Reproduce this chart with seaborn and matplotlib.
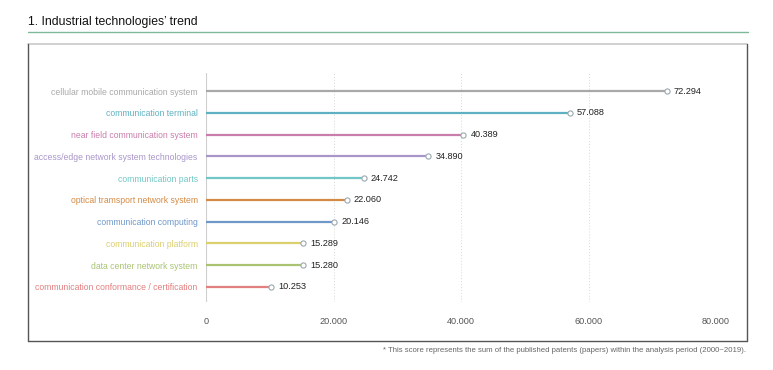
import matplotlib
matplotlib.use("Agg")
import matplotlib.pyplot as plt
import seaborn as sns
import pandas as pd
from matplotlib.lines import Line2D

# data
techs = ["cellular mobile communication system", "communication terminal",
         "near field communication system", "access/edge network system technologies",
         "communication parts", "optical tramsport network system",
         "communication computing", "communication platform",
         "data center network system", "communication conformance / certification"]
scores = [72294, 57088, 40389, 34890, 24742, 22060, 20146, 15289, 15280, 10253]
colors = ["#a8a8a8", "#5fb1c2", "#c97dab", "#a996c9", "#72c6c6", "#d38a45",
          "#6e98c8", "#dccf6e", "#a9c373", "#e27f7f"]
xticks = [0, 20000, 40000, 60000, 80000]
xtick_labels = ["0", "20.000", "40.000", "60.000", "80.000"]

df = pd.DataFrame({"tech": techs, "score": scores, "pos": range(len(techs))})

sns.set_style("white")
plt.rcParams["font.family"] = ["Liberation Sans", "DejaVu Sans"]

fig = plt.figure(figsize=(7.73, 3.70), dpi=100)
W, H = 773, 370
ax = fig.add_axes([206 / W, 1 - 302 / H, (716 - 206) / W, (302 - 73) / H])

# stems
ax.hlines(df["pos"], 0, df["score"], colors=colors, lw=1.6, zorder=2)
# heads
sns.scatterplot(data=df, x="score", y="pos", ax=ax, marker="o", s=14,
                color="white", edgecolor="#9aa8b0", linewidth=0.8, zorder=3, legend=False)

for p, v in zip(df["pos"], df["score"]):
    ax.text(v + 1100, p, f"{v/1000:.3f}", va="center", ha="left", fontsize=6.6, color="#222")

ax.set_xlim(0, 80000)
ax.set_ylim(9.69, -0.83)
ax.set_xticks(xticks)
ax.set_xticklabels(xtick_labels, fontsize=6.6, color="#555")
ax.set_yticks(df["pos"])
ax.set_yticklabels(techs, fontsize=6.25)
for lbl, c in zip(ax.get_yticklabels(), colors):
    lbl.set_color(c)
ax.tick_params(axis="x", length=0, pad=11)
ax.tick_params(axis="y", length=0, pad=6)
for x in xticks[1:]:
    ax.axvline(x, color="#d6d6d6", lw=0.7, ls=(0, (1, 2)), zorder=1)
ax.axvline(0, color="#cfcfcf", lw=1.5, zorder=1)
for s in ax.spines.values():
    s.set_visible(False)
ax.set_xlabel("")
ax.set_ylabel("")

# title and rule
fig.text(28 / W, 1 - 22 / H, "1. Industrial technologies’ trend", fontsize=8.8,
         color="#111", va="center", ha="left")
fig.add_artist(Line2D([28 / W, 748 / W], [1 - 32 / H, 1 - 32 / H], color="#7fb99a", lw=1))

# panel frame
x0, x1, y0, y1 = 28 / W, 747 / W, 1 - 44 / H, 1 - 341 / H
fig.add_artist(Line2D([x0, x1], [y0, y0], color="#c8c8c8", lw=1.2))
fig.add_artist(Line2D([x0, x0], [y0, y1], color="#555", lw=1))
fig.add_artist(Line2D([x1, x1], [y0, y1], color="#555", lw=1))
fig.add_artist(Line2D([x0, x1], [y1, y1], color="#555", lw=1))

fig.text(746 / W, 1 - 351 / H,
         "* This score represents the sum of the published patents (papers) within the analysis period (2000~2019).",
         fontsize=5.6, color="#666", ha="right", va="center")

fig.savefig("out.png", dpi=100, facecolor="white")
